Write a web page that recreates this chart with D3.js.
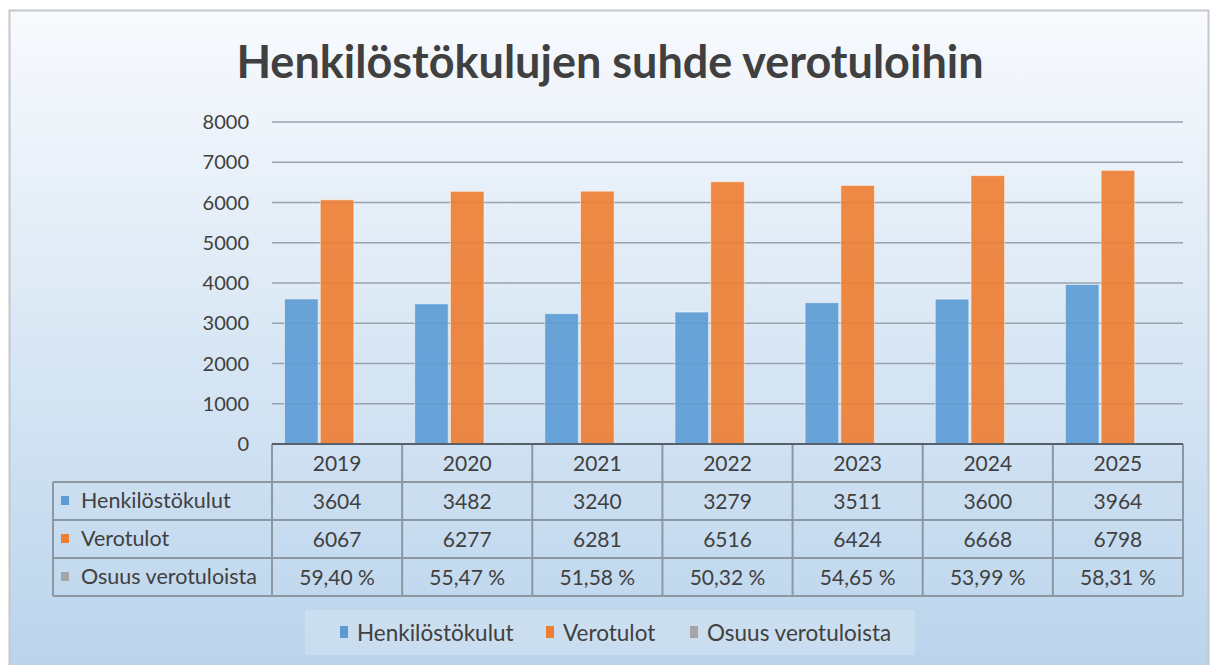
<!DOCTYPE html>
<html>
<head>
<meta charset="utf-8">
<script src="https://cdn.jsdelivr.net/npm/d3@7"></script>
<style>
  body { margin: 0; background: #fff; }
  svg { display: block; font-family: Lato, "Open Sans", sans-serif; }
</style>
</head>
<body>
<svg id="chart"></svg>
<script>
var years = ["2019", "2020", "2021", "2022", "2023", "2024", "2025"];
var seriesNames = ["Henkilöstökulut", "Verotulot", "Osuus verotuloista"];
var henkilosto = [3604, 3482, 3240, 3279, 3511, 3600, 3964];
var verotulot = [6067, 6277, 6281, 6516, 6424, 6668, 6798];
var osuus = [0.5940, 0.5547, 0.5158, 0.5032, 0.5465, 0.5399, 0.5831];
var yTicks = [0, 1000, 2000, 3000, 4000, 5000, 6000, 7000, 8000];
var colors = ["#5b9bd5", "#ed7d31", "#a5a5a5"];

var w = 1216, h = 665;
var svg = d3.select("#chart").attr("width", w).attr("height", h);

// background gradient
var grad = svg.append("defs").append("linearGradient")
    .attr("id", "bg").attr("x1", 0).attr("y1", 0).attr("x2", 0).attr("y2", 1);
grad.append("stop").attr("offset", "0%").attr("stop-color", "#f8fafd");
grad.append("stop").attr("offset", "100%").attr("stop-color", "#bad4ec");

svg.append("rect")
    .attr("x", 9.5).attr("y", 10.5).attr("width", 1199).attr("height", 660)
    .attr("fill", "url(#bg)")
    .attr("stroke", "#c4c7cb").attr("stroke-width", 2);

// title
svg.append("text")
    .attr("x", 610).attr("y", 78)
    .attr("text-anchor", "middle")
    .attr("font-size", 45).attr("font-weight", "bold")
    .attr("fill", "#404040")
    .text("Henkilöstökulujen suhde verotuloihin");

var plotLeft = 272, plotRight = 1183, plotTop = 122, plotBottom = 444;
var x = d3.scaleBand().domain(years).range([plotLeft, plotRight]);
var y = d3.scaleLinear().domain([0, 8000]).range([plotBottom, plotTop]);

// gridlines
svg.append("g").selectAll("line")
    .data(yTicks.slice(1))
    .enter().append("line")
    .attr("x1", plotLeft).attr("x2", plotRight)
    .attr("y1", function (d) { return y(d); })
    .attr("y2", function (d) { return y(d); })
    .style("stroke", "#98a3ae").style("stroke-width", 1.5);

// y tick labels
svg.append("g").selectAll("text")
    .data(yTicks)
    .enter().append("text")
    .attr("x", 249)
    .attr("y", function (d) { return y(d) + 7; })
    .attr("text-anchor", "end")
    .attr("font-size", 20).attr("fill", "#404040")
    .text(function (d) { return d; });

// bars
var seriesData = [henkilosto, verotulot, osuus];
var xs = d3.scaleBand().domain([0, 1, 2]).range([0, x.bandwidth()]).paddingInner(0.06).paddingOuter(0.35);

seriesData.forEach(function (vals, si) {
    svg.append("g").selectAll("rect")
        .data(vals)
        .enter().append("rect")
        .attr("x", function (d, i) { return x(years[i]) + xs(si); })
        .attr("width", xs.bandwidth())
        .attr("y", function (d) { return y(d); })
        .attr("height", function (d) { return plotBottom - y(d); })
        .style("fill", colors[si])
        .style("fill-opacity", 0.9)
        .style("stroke", "#fff").style("stroke-opacity", 0.5).style("stroke-width", 1);
});

// data table
var rowH = 38;
var tableLeft = 53;
var lineColor = "#8d97a1";
var table = svg.append("g");
var fmt = d3.formatLocale({ decimal: ",", thousands: "\u00a0", grouping: [3], currency: ["", "€"] });
var pct = function (v) { return fmt.format(".2f")(v * 100) + " %"; };
var rows = [
    henkilosto.map(String),
    verotulot.map(String),
    osuus.map(pct)
];

// horizontal lines
[0, 1, 2, 3, 4].forEach(function (r) {
    table.append("line")
        .attr("x1", r === 0 ? plotLeft : tableLeft).attr("x2", plotRight)
        .attr("y1", plotBottom + r * rowH).attr("y2", plotBottom + r * rowH)
        .style("stroke", lineColor).style("stroke-width", 2);
});
// vertical lines
table.selectAll("line.v")
    .data(years.concat(["end"]))
    .enter().append("line")
    .attr("class", "v")
    .attr("x1", function (d) { return d === "end" ? plotRight : x(d); })
    .attr("x2", function (d) { return d === "end" ? plotRight : x(d); })
    .attr("y1", plotBottom).attr("y2", plotBottom + 4 * rowH)
    .style("stroke", lineColor).style("stroke-width", 2);
table.append("line")
    .attr("x1", tableLeft).attr("x2", tableLeft)
    .attr("y1", plotBottom + rowH).attr("y2", plotBottom + 4 * rowH)
    .style("stroke", lineColor).style("stroke-width", 2);

// axis line
svg.append("line")
    .attr("x1", plotLeft).attr("x2", plotRight)
    .attr("y1", plotBottom).attr("y2", plotBottom)
    .style("stroke", "#56616c").style("stroke-width", 2);

// year header
table.selectAll("text.year")
    .data(years)
    .enter().append("text")
    .attr("x", function (d) { return x(d) + x.bandwidth() / 2; })
    .attr("y", plotBottom + rowH / 2 + 8)
    .attr("text-anchor", "middle")
    .attr("font-size", 21).attr("fill", "#404040")
    .text(function (d) { return d; });

rows.forEach(function (vals, r) {
    var cy = plotBottom + (r + 1) * rowH + rowH / 2;
    table.append("rect")
        .attr("x", 61).attr("y", cy - 5).attr("width", 8).attr("height", 9)
        .style("fill", colors[r]);
    table.append("text")
        .attr("x", 81).attr("y", cy + 7)
        .attr("font-size", 21.5).attr("fill", "#404040")
        .text(seriesNames[r]);
    table.selectAll("text.r" + r)
        .data(vals)
        .enter().append("text")
        .attr("x", function (d, i) { return x(years[i]) + x.bandwidth() / 2; })
        .attr("y", cy + 8)
        .attr("text-anchor", "middle")
        .attr("font-size", 21).attr("fill", "#404040")
        .text(function (d) { return d; });
});

// legend
var legend = svg.append("g");
legend.append("rect")
    .attr("x", 305).attr("y", 610).attr("width", 610).attr("height", 45)
    .style("fill", "#fff").style("fill-opacity", 0.2);
var legendX = [340, 546, 690];
seriesNames.forEach(function (name, i) {
    legend.append("rect")
        .attr("x", legendX[i]).attr("y", 626).attr("width", 8).attr("height", 12)
        .style("fill", colors[i]);
    legend.append("text")
        .attr("x", legendX[i] + 17).attr("y", 641)
        .attr("font-size", 22.5).attr("fill", "#404040")
        .text(name);
});
</script>
</body>
</html>
